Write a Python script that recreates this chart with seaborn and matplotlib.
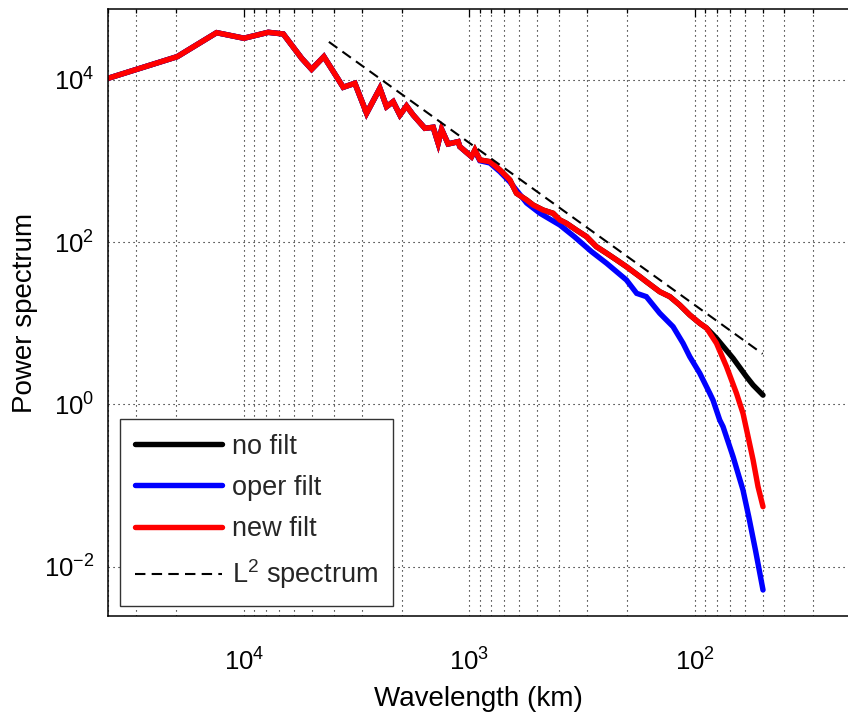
import numpy as np
import pandas as pd
import matplotlib
matplotlib.use("Agg")
import matplotlib.pyplot as plt
import seaborn as sns
from matplotlib.ticker import LogLocator, FixedLocator, NullFormatter, LogFormatterMathtext

# ---------------- data ----------------
# part shared by all three spectra (wavelength in km, power)
lam_shared = [40000, 19760, 13220, 10000, 7800, 6690, 5546, 5010, 4420, 3627,
              3220, 2857, 2494, 2330, 2178, 2033, 1900, 1775, 1575, 1447,
              1375, 1328, 1242, 1121, 1102, 978]
pow_shared = [10500, 19400, 38300, 32700, 38700, 36900, 18500, 13550, 19400, 8130,
              9110, 3884, 7900, 4686, 5400, 3700, 4780, 3700, 2537, 2610,
              1658, 2466, 1625, 1735, 1506, 1133]

# "new filt" continuation
lam_new = [945, 898, 811, 732, 661, 618, 557, 521, 471, 425,
           397, 371, 335, 302, 273, 246, 222, 201, 175, 164,
           143, 129, 116.6, 105.2, 95.0, 88.7, 80.1, 72.3, 65.3, 61.1,
           58.0, 55.1, 52.4, 49.8]
pow_new = [1371, 1032, 983, 777, 585, 401, 331, 287, 249, 227,
           188, 171, 141, 117, 88, 73, 60.3, 49.9, 37.5, 32.6,
           24.5, 21.3, 16.8, 12.66, 10.0, 8.75, 5.67, 2.92, 1.37, 0.777,
           0.400, 0.206, 0.0966, 0.0548]

# "no filt" follows "new filt" down to ~89 km, then its own tail
n_nofilt_common = 26
lam_nofilt_tail = [80.1, 67.6, 59.0, 55.1, 49.8]
pow_nofilt_tail = [6.53, 3.70, 2.20, 1.73, 1.30]

# "oper filt" continuation
lam_oper = [945, 898, 811, 732, 661, 557, 487, 397, 341, 287,
            246, 201, 181, 164, 143, 124.8, 112.7, 105.2, 95.0, 85.8,
            83.0, 77.5, 74.9, 67.6, 61.1, 57.6, 53.8, 49.8]
pow_oper = [1330, 1010, 948, 740, 553, 304, 228, 163, 116, 76.4,
            54.9, 34.2, 23.4, 21.3, 13.3, 9.08, 5.67, 3.87, 2.42, 1.37,
            1.13, 0.642, 0.531, 0.2265, 0.088, 0.0412, 0.016, 0.00515]

# L^2 reference spectrum
lam_ref = [4200, 50]
pow_ref = [29500, 4.2]

labels = ["no filt", "oper filt", "new filt", "L$^2$ spectrum"]
colors = ["#000000", "#0000ff", "#ff0000", "#000000"]

# ---------------- build series ----------------
series = {
    labels[0]: (lam_shared + lam_new[:n_nofilt_common] + lam_nofilt_tail,
                pow_shared + pow_new[:n_nofilt_common] + pow_nofilt_tail),
    labels[1]: (lam_shared + lam_oper, pow_shared + pow_oper),
    labels[2]: (lam_shared + lam_new, pow_shared + pow_new),
}

# ---------------- style ----------------
sns.set_style("white")
plt.rcParams["font.family"] = ["Liberation Sans", "DejaVu Sans"]
plt.rcParams["mathtext.fontset"] = "custom"
plt.rcParams["mathtext.rm"] = "Liberation Sans"
plt.rcParams["mathtext.it"] = "Liberation Sans:italic"
plt.rcParams["mathtext.bf"] = "Liberation Sans:bold"

fig = plt.figure(figsize=(8.48, 7.15), dpi=100)
ax = fig.add_axes([108 / 848, 1 - 616 / 715, 740 / 848, 607 / 715])
ax.set_xscale("log")
ax.set_yscale("log")

for lab, col in zip(labels[:3], colors[:3]):
    lam, pw = series[lab]
    df = pd.DataFrame({"lam": lam, "pow": pw})
    sns.lineplot(data=df, x="lam", y="pow", color=col, lw=3.9, sort=False,
                 estimator=None, label=lab, ax=ax, solid_joinstyle="miter")

df_ref = pd.DataFrame({"lam": lam_ref, "pow": pow_ref})
sns.lineplot(data=df_ref, x="lam", y="pow", color=colors[3], lw=1.5,
             dashes=False, sort=False, estimator=None, label=labels[3], ax=ax)
ax.lines[-1].set_dashes((5, 3))

ax.set_xlim(40100, 20.9)
ax.set_ylim(2.46e-3, 7.5e4)

# ticks
ax.xaxis.set_major_locator(FixedLocator([1e2, 1e3, 1e4]))
ax.xaxis.set_minor_locator(LogLocator(base=10, subs=np.arange(2, 10), numticks=50))
ax.xaxis.set_major_formatter(LogFormatterMathtext())
ax.xaxis.set_minor_formatter(NullFormatter())
ax.yaxis.set_major_locator(FixedLocator([1e-2, 1e0, 1e2, 1e4]))
ax.yaxis.set_minor_locator(LogLocator(base=10, subs=np.arange(1, 10), numticks=50))
ax.yaxis.set_major_formatter(LogFormatterMathtext())
ax.yaxis.set_minor_formatter(NullFormatter())

ax.tick_params(which="both", direction="in", top=True, right=False,
               color="k", width=0.9, labelsize=18.5, labelcolor="k")
ax.tick_params(which="major", length=6)
ax.tick_params(which="minor", length=3.2)
ax.tick_params(axis="x", which="major", pad=23)
ax.tick_params(axis="y", which="major", pad=10)

# grid
dot = (0, (1, 3.5))
ax.grid(True, which="major", axis="both", ls=dot, color="k", lw=0.8)
ax.grid(True, which="minor", axis="x", ls=dot, color="k", lw=0.8)
ax.set_axisbelow(True)

for s in ["left", "bottom", "top"]:
    ax.spines[s].set_color("k")
    ax.spines[s].set_linewidth(1.1)
ax.spines["right"].set_visible(False)

ax.set_xlabel("Wavelength (km)", fontsize=20, labelpad=8, color="k")
ax.set_ylabel("Power spectrum", fontsize=20, labelpad=4, color="k")

leg = ax.legend(loc="lower left", bbox_to_anchor=(0.0162, 0.0165),
                borderaxespad=0, fontsize=19.5, handlelength=3.2,
                handletextpad=0.4, labelspacing=0.56, borderpad=0.55,
                frameon=True, fancybox=False, framealpha=1,
                edgecolor="0.2")
leg.get_frame().set_linewidth(1.0)

fig.savefig("out.png", dpi=100)
